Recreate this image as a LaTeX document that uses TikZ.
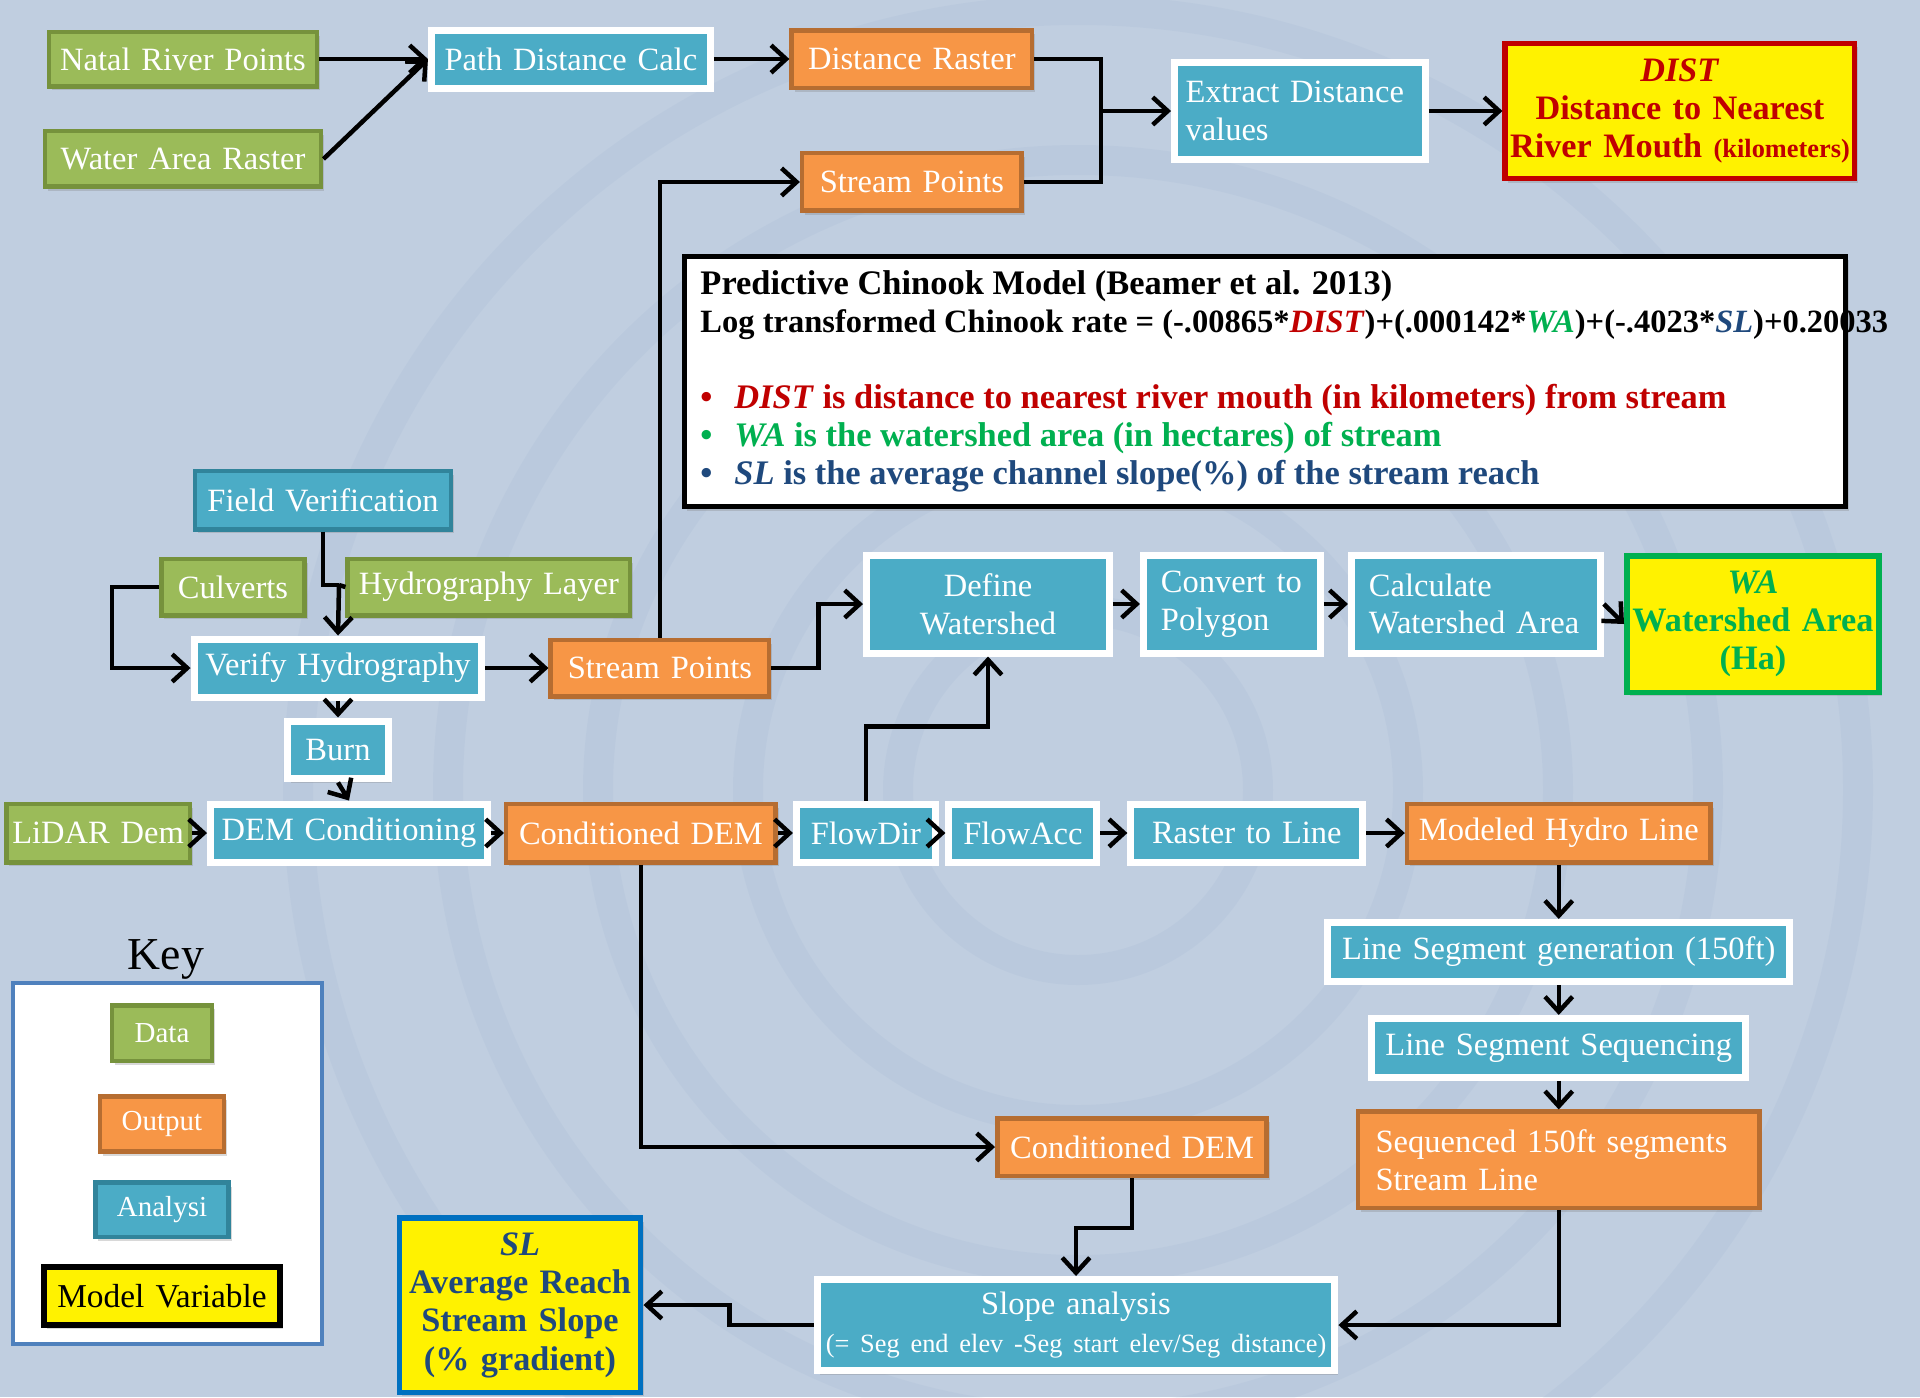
\documentclass[tikz,border=0pt]{standalone}
\usepackage{fontspec}
\setmainfont{Liberation Serif}
\usepackage{tikz}
\usetikzlibrary{arrows.meta, positioning, shadows}

\definecolor{bgblue}{RGB}{192,206,224}
\definecolor{ringblue}{RGB}{120,150,195}
\definecolor{datagreen}{RGB}{155,187,89}
\definecolor{datagreenD}{RGB}{118,146,60}
\definecolor{outorange}{RGB}{247,150,70}
\definecolor{outorangeD}{RGB}{182,109,49}
\definecolor{anablue}{RGB}{75,172,198}
\definecolor{anablueD}{RGB}{49,132,155}
\definecolor{distred}{RGB}{192,0,0}
\definecolor{wagreen}{RGB}{0,176,80}
\definecolor{slblue}{RGB}{0,112,192}
\definecolor{sltext}{RGB}{31,73,125}
\definecolor{keyblue}{RGB}{79,129,189}

\newcommand{\boxfont}{\fontsize{18.5}{21.5}\selectfont}
\newcommand{\varfont}{\fontsize{19.5}{21.8}\selectfont\bfseries}
\newcommand{\keyfont}{\fontsize{16.5}{19}\selectfont}
\newcommand{\modelfont}{\fontsize{19.6}{21.6}\selectfont\bfseries}

\tikzset{
  basebox/.style={rectangle, inner xsep=0pt, inner ysep=2pt, align=center,
    text=white, font=\boxfont,
    drop shadow={shadow xshift=0.06cm, shadow yshift=-0.08cm, opacity=0.3}},
  databox/.style={basebox, fill=datagreen, draw=datagreenD, line width=0.09cm},
  outbox/.style={basebox, fill=outorange, draw=outorangeD, line width=0.09cm},
  anabox/.style={basebox, fill=anablue, draw=white, line width=0.14cm},
  fieldbox/.style={basebox, fill=anablue, draw=anablueD, line width=0.09cm},
  varbox/.style={basebox, fill=yellow, line width=0.11cm, font=\varfont},
  flow/.style={line width=0.09cm},
}

\begin{document}
\begin{tikzpicture}[x=0.02cm, y=-0.02cm, on grid, >={Straight Barb[length=3mm,width=5.5mm]}]

        \useasboundingbox (0,0) rectangle (1920,1397);
        \fill[bgblue] (0,0) rectangle (1920,1397);
        \begin{scope}[ringblue, line width=0.6cm, opacity=0.08]
            \foreach \r in {180,330,480,630,780}
                \draw (1078,790) circle[radius=\r];
        \end{scope}

        \node[databox, text width=5.37cm, minimum height=1.09cm] (nrp)  at (183,59)           {Natal River Points};
        \node[databox, text width=5.53cm, minimum height=1.11cm] (war)  [below=2cm of nrp]    {Water Area Raster};
        \node[anabox, text width=5.58cm, minimum height=1.16cm]  (pdc)  [right=7.76cm of nrp] {Path Distance Calc};
        \node[outbox, text width=4.81cm, minimum height=1.15cm]  (dr)   [right=6.82cm of pdc] {Distance Raster};
        \node[outbox, text width=4.39cm, minimum height=1.15cm]  (sp1)  [below=2.46cm of dr]  {Stream Points};
        \node[anabox, align=left, inner xsep=0.22cm, text width=4.58cm, minimum height=1.94cm] (edv) at (1300,111) {Extract Distance\\ values};
        \node[varbox, draw=distred, text=distred, text width=6.99cm, minimum height=2.71cm] (dist) [right=7.6cm of edv]
            {\textit{DIST}\\ Distance to Nearest\\ River Mouth {\fontsize{15}{18}\selectfont (kilometers)}};

        \node[draw=black, fill=white, line width=0.09cm, minimum width=23.23cm, minimum height=5.01cm,
            drop shadow={shadow xshift=0.06cm, shadow yshift=-0.08cm, opacity=0.3}] (model) at (1265,381.5) {};
        \node[anchor=west, align=left, inner sep=0pt, font=\modelfont] (modeltxt) at ([xshift=0.36cm]model.west)
            {Predictive Chinook Model (Beamer et al. 2013)\\
             {\fontsize{18.5}{21.6}\selectfont Log transformed Chinook rate = (-.00865*\textcolor{distred}{\textit{DIST}})+(.000142*\textcolor{wagreen}{\textit{WA}})+(-.4023*\textcolor{sltext}{\textit{SL}})+0.20033}\\[21.6pt]
             \textcolor{distred}{\makebox[0.68cm][l]{\textbullet}\textit{DIST} is distance to nearest river mouth (in kilometers) from stream}\\
             \textcolor{wagreen}{\makebox[0.68cm][l]{\textbullet}\textit{WA} is the watershed area (in hectares) of stream}\\
             \textcolor{sltext}{\makebox[0.68cm][l]{\textbullet}\textit{SL} is the average channel slope(\%) of the stream reach}};

        \node[fieldbox, text width=5.13cm, minimum height=1.17cm] (fv)    at (323,500)           {Field Verification};
        \node[databox, text width=2.87cm, minimum height=1.13cm]  (cul)   at (233,587)           {Culverts};
        \node[databox, text width=5.65cm, minimum height=1.13cm]  (hl)    [right=5.12cm of cul]  {Hydrography Layer};
        \node[anabox, text width=5.76cm, minimum height=1.16cm]   (vh)    at (338,668)           {Verify Hydrography};
        \node[outbox, text width=4.37cm, minimum height=1.13cm]   (sp2)   [right=6.44cm of vh]   {Stream Points};
        \node[anabox, text width=2.02cm, minimum height=1.16cm]   (burn)  [below=1.64cm of vh]   {Burn};
        \node[anabox, text width=5.54cm, minimum height=1.16cm]   (demc)  at (349,833)           {DEM Conditioning};
        \node[databox, text width=3.67cm, minimum height=1.17cm]  (lidar) [left=5.02cm of demc]  {LiDAR Dem};
        \node[outbox, text width=5.39cm, minimum height=1.17cm]   (cdem)  [right=5.84cm of demc] {Conditioned DEM};
        \node[anabox, text width=2.78cm, minimum height=1.16cm]   (fd)    [right=4.5cm of cdem]  {FlowDir};
        \node[anabox, text width=2.96cm, minimum height=1.16cm]   (fa)    [right=3.14cm of fd]   {FlowAcc};
        \node[anabox, text width=4.64cm, minimum height=1.16cm]   (rtl)   [right=4.48cm of fa]   {Raster to Line};
        \node[outbox, text width=6.07cm, minimum height=1.17cm]   (mhl)   [right=6.24cm of rtl]  {Modeled Hydro Line};

        \node[anabox, text width=4.86cm, minimum height=1.96cm]   (dw)    at (988,604)           {Define\\ Watershed};
        \node[anabox, align=left, inner xsep=0.35cm, text width=2.84cm, minimum height=1.96cm] (ctp) [right=4.88cm of dw]  {Convert to\\ Polygon};
        \node[anabox, align=left, inner xsep=0.35cm, text width=4.28cm, minimum height=1.96cm] (cwa) [right=4.88cm of ctp] {Calculate\\ Watershed Area};
        \node[varbox, draw=wagreen, text=wagreen, text width=5.05cm, minimum height=2.73cm] (wa) at (1753,624) {\textit{WA}\\ Watershed Area\\ (Ha)};

        \node[anabox, text width=9.24cm, minimum height=1.18cm]   (lsg)   [below=2.38cm of mhl]  {Line Segment generation (150ft)};
        \node[anabox, text width=7.48cm, minimum height=1.18cm]   (lss)   [below=1.92cm of lsg]  {Line Segment Sequencing};
        \node[outbox, align=left, inner xsep=0.35cm, text width=7.33cm, minimum height=1.93cm] (ssl) [below=2.24cm of lss] {Sequenced 150ft segments\\ Stream Line};
        \node[outbox, text width=5.39cm, minimum height=1.15cm]   (cdem2) at (1132,1147)         {Conditioned DEM};
        \node[anabox, text width=10.36cm, minimum height=1.82cm]  (slope) at (1076,1325)
            {Slope analysis\\ {\fontsize{15}{18}\selectfont (= Seg end elev -Seg start elev/Seg distance)}};
        \node[varbox, draw=slblue, text=sltext, text width=4.83cm, minimum height=3.49cm] (sl) at (520,1305)
            {\textit{SL}\\ Average Reach\\ Stream Slope\\ (\% gradient)};

        \node[draw=keyblue, fill=white, line width=0.08cm, minimum width=6.18cm, minimum height=7.22cm] (keybox) at (167.5,1163.5) {};
        \node[font=\fontsize{26}{30}\selectfont] (keylbl) at (166,959) {Key};
        \node[databox, font=\keyfont, text width=2.01cm, minimum height=1.11cm]  (kdata) at (162,1033)            {Data};
        \node[outbox, font=\keyfont, text width=2.49cm, minimum height=1.11cm]   (kout)  [below=1.82cm of kdata] {Output};
        \node[fieldbox, font=\keyfont, text width=2.67cm, minimum height=1.09cm] (kana)  [below=1.72cm of kout]  {Analysi};
        \node[varbox, draw=black, text=black, font=\fontsize{19}{22}\selectfont, line width=0.12cm,
            text width=4.74cm, minimum height=1.16cm] (kvar) [below=1.72cm of kana] {Model Variable};

        \coordinate (jd) at (1101,111);
        \coordinate (jv) at (339,585);

        \path[flow, ->] (nrp.east) edge (pdc.west)
        (war.east) edge (pdc.west)
        (jd) edge (edv.west)
        (edv.east) edge (dist.west)
        (jv) edge (vh.north)
        (vh.east) edge (sp2.west)
        (vh.south) edge (burn.north)
        (burn.south) edge (demc.north)
        (lidar.east) edge (demc.west)
        (demc.east) edge (cdem.west)
        (cdem.east) edge (fd.west)
        (fd.east) edge (fa.west)
        (fa.east) edge (rtl.west)
        (rtl.east) edge (mhl.west)
        (dw.east) edge (ctp.west)
        (ctp.east) edge (cwa.west)
        (cwa.east) edge (wa.west)
        (mhl.south) edge (lsg.north)
        (lsg.south) edge (lss.north)
        (lss.south) edge (ssl.north)
        ;

        \draw[flow, ->] (pdc.east) -- ++(36,0) |- (dr.west);
        \draw[flow] (dr.east) -| (jd);
        \draw[flow] (sp1.east) -| (jd);
        \draw[flow, ->] (sp2.north) |- (sp1.west);
        \draw[flow] (fv.south) |- (jv);
        \draw[flow] (hl.west) -- (jv);
        \draw[flow, ->] (cul.west) -- ++(-47,0) |- (vh.west);
        \draw[flow, ->] (fd.north) -- ++(0,-74) -| (dw.south);
        \draw[flow, ->] (sp2.east) -- ++(47,0) |- (dw.west);
        \draw[flow, ->] (ssl.south) |- (slope.east);
        \draw[flow, ->] (cdem.south) |- (cdem2.west);
        \draw[flow, ->] (cdem2.south) -- ++(0,50) -| (slope.north);
        \draw[flow, ->] (slope.west) -- ++(-84,0) |- (sl.east);

\end{tikzpicture}
\end{document}
